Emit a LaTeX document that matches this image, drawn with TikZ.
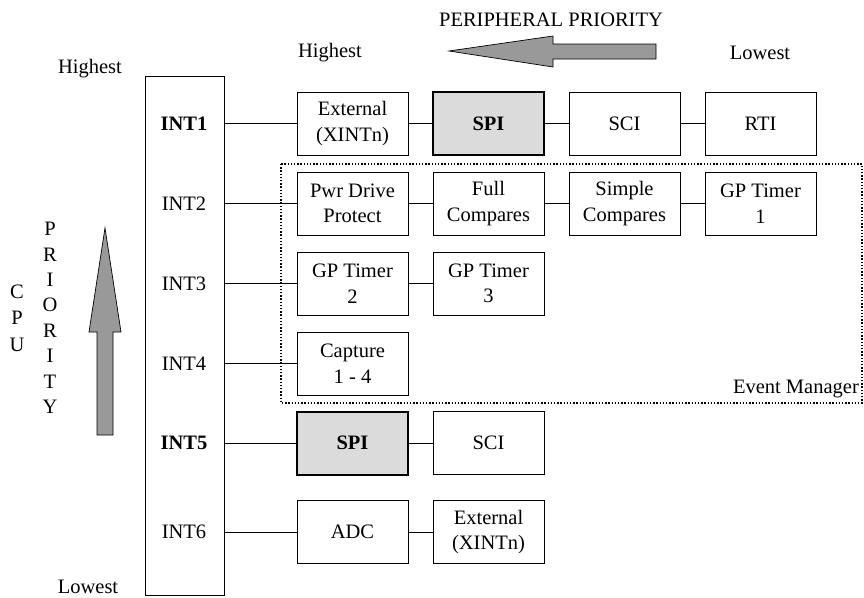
\documentclass[tikz,border=0pt]{standalone}
\usepackage{fontspec}
\setmainfont{Liberation Serif}
\begin{document}
\begin{tikzpicture}[x=1pt,y=-1pt,
  every node/.style={font=\fontsize{20.5pt}{25.5pt}\selectfont},
  pbox/.style={draw, line width=0.9pt, minimum width=111pt, minimum height=63pt, inner sep=0pt, outer sep=0pt, align=center},
  hbox/.style={pbox, line width=2pt, fill=black!14, font=\fontsize{20.5pt}{25.5pt}\selectfont\bfseries},
  lbl/.style={inner sep=0pt, anchor=center},
  link/.style={line width=0.9pt},
  bigarrow/.style={draw, line width=0.7pt, fill=black!40}
]
\useasboundingbox (0,0) rectangle (864,597);

% INT column
\node[draw, line width=0.9pt, minimum width=79pt, minimum height=519pt, inner sep=0pt, outer sep=0pt] (col) at (184.5,335.5) {};
\node[lbl, font=\fontsize{20.5pt}{25.5pt}\selectfont\bfseries] (i1) at (184,124) {INT1};
\node[lbl] (i2) at (184,204) {INT2};
\node[lbl] (i3) at (184,284) {INT3};
\node[lbl] (i4) at (184,364) {INT4};
\node[lbl, font=\fontsize{20.5pt}{25.5pt}\selectfont\bfseries] (i5) at (184,443) {INT5};
\node[lbl] (i6) at (184,532) {INT6};

% Event manager region
\draw[line width=1.4pt, dash pattern=on 1.4pt off 1.8pt] (281,164) rectangle (862,403);
\node[lbl, anchor=east] (em) at (859,389) {Event Manager};

% row 1
\node[pbox] (r1a) at (352.5,123.5) {External\\(XINTn)};
\node[hbox] (r1b) at (488.5,123.5) {SPI};
\node[pbox] (r1c) at (624.5,123.5) {SCI};
\node[pbox] (r1d) at (760.5,123.5) {RTI};
% row 2
\node[pbox] (r2a) at (352.5,203.5) {Pwr Drive\\Protect};
\node[pbox] (r2b) at (488.5,203.5) {Full\\Compares};
\node[pbox] (r2c) at (624.5,203.5) {Simple\\Compares};
\node[pbox] (r2d) at (760.5,203.5) {GP Timer\\1};
% row 3
\node[pbox] (r3a) at (352.5,283.5) {GP Timer\\2};
\node[pbox] (r3b) at (488.5,283.5) {GP Timer\\3};
% row 4
\node[pbox] (r4a) at (352.5,363.5) {Capture\\1 - 4};
% row 5
\node[hbox] (r5a) at (352.5,443) {SPI};
\node[pbox] (r5b) at (488.5,443) {SCI};
% row 6
\node[pbox] (r6a) at (352.5,532) {ADC};
\node[pbox] (r6b) at (488.5,532) {External\\(XINTn)};

% connectors
\foreach \a/\b in {r1a/r1b,r1b/r1c,r1c/r1d,r2a/r2b,r2b/r2c,r2c/r2d,r3a/r3b,r5a/r5b,r6a/r6b}
  \draw[link] (\a.east) -- (\b.west);
\foreach \r in {r1a,r2a,r3a,r4a,r5a,r6a}
  \draw[link] (col.east |- \r.west) -- (\r.west);

% peripheral priority
\node[lbl] (pp) at (551,20) {PERIPHERAL PRIORITY};
\node[lbl] (ph) at (330,53) {Highest};
\node[lbl] (pl) at (760,53) {Lowest};
\draw[bigarrow] (449,51) -- (553,36) -- (553,44) -- (656,44) -- (656,59) -- (553,59) -- (553,67) -- cycle;

% CPU priority
\node[lbl] (ch) at (90,69) {Highest};
\node[lbl] (cl) at (88,587) {Lowest};
\draw[bigarrow] (105,228) -- (121,332) -- (113,332) -- (113,435) -- (97,435) -- (97,332) -- (89,332) -- cycle;
\node[lbl] (c1) at (17,292) {C};
\node[lbl] (c2) at (17,318) {P};
\node[lbl] (c3) at (17,345) {U};
\foreach \ch [count=\k from 0] in {P,R,I,O,R,I,T,Y}
  \node[lbl] (p\k) at (50,{229+25.4*\k}) {\ch};
\end{tikzpicture}
\end{document}
